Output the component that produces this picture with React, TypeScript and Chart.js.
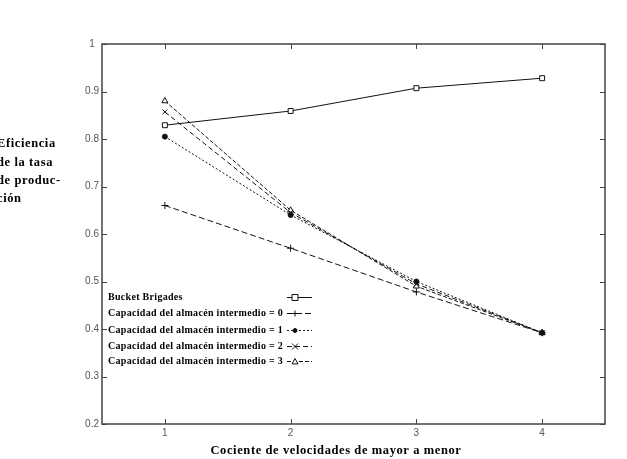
import React, { useEffect, useRef } from "react";
import { Chart, registerables } from "chart.js";

Chart.register(...registerables);

const xValues = [1, 2, 3, 4];
const bucketBrigades = [0.829, 0.859, 0.907, 0.928];
const cap0 = [0.66, 0.57, 0.478, 0.392];
const cap1 = [0.805, 0.64, 0.5, 0.392];
const cap2 = [0.857, 0.645, 0.495, 0.392];
const cap3 = [0.88, 0.65, 0.49, 0.392];
const seriesLabels = [
  "Bucket Brigades",
  "Capacidad del almacén intermedio = 0",
  "Capacidad del almacén intermedio = 1",
  "Capacidad del almacén intermedio = 2",
  "Capacidad del almacén intermedio = 3",
];
const yTicks = [0.2, 0.3, 0.4, 0.5, 0.6, 0.7, 0.8, 0.9, 1];
const xTitle = "Cociente de velocidades de mayor a menor";
const yTitleLines = ["Eficiencia", "de la tasa", "de produc-", "ción"];

const serif = "'Liberation Serif', 'DejaVu Serif', serif";
const sans = "'Liberation Sans', 'DejaVu Sans', sans-serif";

const styles = [
  { pointStyle: "rect", dash: [], fill: false, radius: 3.5 },
  { pointStyle: "cross", dash: [6, 3], fill: false, radius: 3.5 },
  { pointStyle: "circle", dash: [2, 2], fill: true, radius: 2.5 },
  { pointStyle: "crossRot", dash: [5, 3], fill: false, radius: 3.5 },
  { pointStyle: "triangle", dash: [4, 2], fill: false, radius: 3.5 },
];
const allData = [bucketBrigades, cap0, cap1, cap2, cap3];

function drawMarker(ctx: CanvasRenderingContext2D, style: string, r: number, fill: boolean, x: number, y: number) {
  ctx.beginPath();
  if (style === "rect") {
    ctx.rect(x - r, y - r, 2 * r, 2 * r);
  } else if (style === "cross") {
    ctx.moveTo(x - r, y);
    ctx.lineTo(x + r, y);
    ctx.moveTo(x, y - r);
    ctx.lineTo(x, y + r);
  } else if (style === "crossRot") {
    ctx.moveTo(x - r, y - r);
    ctx.lineTo(x + r, y + r);
    ctx.moveTo(x - r, y + r);
    ctx.lineTo(x + r, y - r);
  } else if (style === "circle") {
    ctx.arc(x, y, r, 0, Math.PI * 2);
  } else if (style === "triangle") {
    ctx.moveTo(x, y - r);
    ctx.lineTo(x + r, y + r * 0.8);
    ctx.lineTo(x - r, y + r * 0.8);
    ctx.closePath();
  }
  if (fill) {
    ctx.fillStyle = "#111";
    ctx.fill();
  } else if (style === "rect" || style === "triangle") {
    ctx.fillStyle = "#fff";
    ctx.fill();
  }
  ctx.stroke();
}

const framePlugin = {
  id: "frame",
  afterDraw(chart: any) {
    const { ctx, chartArea: a, scales } = chart;
    ctx.save();
    ctx.strokeStyle = "#444";
    ctx.lineWidth = 1.5;
    ctx.strokeRect(a.left, a.top, a.right - a.left, a.bottom - a.top);
    ctx.lineWidth = 1;
    ctx.beginPath();
    for (const v of yTicks) {
      const y = Math.round(scales.y.getPixelForValue(v)) + 0.5;
      ctx.moveTo(a.left, y);
      ctx.lineTo(a.left + 5, y);
      ctx.moveTo(a.right, y);
      ctx.lineTo(a.right - 5, y);
    }
    for (const v of xValues) {
      const x = Math.round(scales.x.getPixelForValue(v)) + 0.5;
      ctx.moveTo(x, a.bottom);
      ctx.lineTo(x, a.bottom - 5);
      ctx.moveTo(x, a.top);
      ctx.lineTo(x, a.top + 5);
    }
    ctx.stroke();

    // titles
    ctx.fillStyle = "#000";
    ctx.font = `bold 12.5px ${serif}`;
    (ctx as any).letterSpacing = "0.6px";
    ctx.textAlign = "left";
    ctx.textBaseline = "middle";
    const tw = ctx.measureText(xTitle).width;
    ctx.fillText(xTitle, 336 - tw / 2, 451);
    const ys = [144, 163, 181, 199];
    yTitleLines.forEach((t, i) => ctx.fillText(t, -3, ys[i]));

    // legend
    const rowY = [297, 313, 330, 346, 361];
    ctx.font = `bold 10px ${serif}`;
    (ctx as any).letterSpacing = "0.3px";
    seriesLabels.forEach((t, i) => {
      const y = rowY[i];
      ctx.fillStyle = "#000";
      ctx.textAlign = "left";
      ctx.fillText(t, 108, y);
      const st = styles[i];
      ctx.strokeStyle = "#111";
      ctx.lineWidth = 1;
      ctx.setLineDash(st.dash);
      ctx.beginPath();
      ctx.moveTo(287, y + 0.5);
      ctx.lineTo(312, y + 0.5);
      ctx.stroke();
      ctx.setLineDash([]);
      drawMarker(ctx, st.pointStyle, st.radius - 0.5, st.fill, 295, y + 0.5);
    });
    (ctx as any).letterSpacing = "0px";
    ctx.restore();
  },
};

export default function App() {
  const ref = useRef<HTMLCanvasElement>(null);
  useEffect(() => {
    const datasets = allData.map((d, i) => ({
      label: seriesLabels[i],
      data: d.map((v, j) => ({ x: xValues[j], y: v })),
      borderColor: "#111",
      borderWidth: 1,
      borderDash: styles[i].dash,
      pointStyle: styles[i].pointStyle,
      pointRadius: styles[i].radius,
      pointBorderWidth: 1,
      pointBorderColor: "#111",
      pointBackgroundColor: styles[i].fill ? "#111" : "#fff",
      tension: 0,
    }));
    const chart = new Chart(ref.current!, {
      type: "line",
      data: { datasets },
      plugins: [framePlugin],
      options: {
        animation: false,
        responsive: false,
        layout: { padding: { top: 44, right: 22, left: 0, bottom: 0 } },
        plugins: { legend: { display: false }, tooltip: { enabled: false } },
        scales: {
          x: {
            type: "linear",
            min: 0.5,
            max: 4.5,
            grid: { display: false, drawTicks: false },
            border: { display: false },
            afterBuildTicks: (s: any) => {
              s.ticks = xValues.map((v) => ({ value: v }));
            },
            afterFit: (s: any) => {
              s.height = 35;
            },
            ticks: { color: "#555", font: { family: sans, size: 10 }, padding: 3 },
          },
          y: {
            min: 0.2,
            max: 1,
            grid: { display: false, drawTicks: false },
            border: { display: false },
            afterBuildTicks: (s: any) => {
              s.ticks = yTicks.map((v) => ({ value: v }));
            },
            afterFit: (s: any) => {
              s.width = 102;
            },
            ticks: {
              color: "#555",
              font: { family: sans, size: 10 },
              padding: 3,
              crossAlign: "center",
              callback: (v: any) => String(Math.round(Number(v) * 10) / 10),
            },
          },
        },
      } as any,
    });
    return () => chart.destroy();
  }, []);
  return (
    <div style={{ position: "fixed", left: 0, top: 0, width: 627, height: 459, background: "#fff" }}>
      <canvas ref={ref} width={627} height={459} />
    </div>
  );
}
